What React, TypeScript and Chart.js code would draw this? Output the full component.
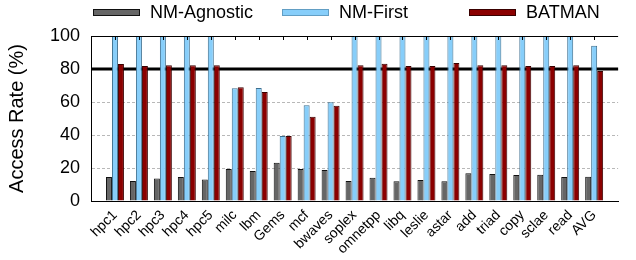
import React, { useEffect, useRef } from "react";
import { Chart, registerables } from "chart.js";

Chart.register(...registerables);

const categories = ["hpc1","hpc2","hpc3","hpc4","hpc5","milc","lbm","Gems","mcf","bwaves","soplex","omnetpp","libq","leslie","astar","add","triad","copy","sclae","read","AVG"];
const nmAgnostic = [14.5,12.1,13.7,14.5,13.1,19.4,18.2,23.2,19.4,18.8,12.1,14.1,11.9,12.7,11.9,16.8,16.4,15.8,15.9,14.5,14.7];
const nmFirst = [100,100,100,100,100,68.3,68.5,39.4,58,59.8,100,100,100,100,100,100,100,100,100,100,94.1];
const batman = [83,81.8,82.2,82.2,82.2,69,66,39.4,51,57.8,82.2,83.2,81.8,81.8,83.6,82.2,82.2,81.8,81.8,82.2,78.8];
const seriesNames = ["NM-Agnostic", "NM-First", "BATMAN"];
const yTicks = [0, 20, 40, 60, 80, 100];
const thresholdValue = 80;

const FONT = "'Liberation Sans', Arial, Helvetica, sans-serif";
const colors = ["#666666", "#87CEFA", "#8B0000"];
const borders = ["#111111", "#3d6f8f", "#3a0000"];

export default function App() {
  const ref = useRef<HTMLCanvasElement | null>(null);
  useEffect(() => {
    if (!ref.current) return;
    const labels = ["", ...categories, ""];
    const pad = (a: number[]) => [null, ...a, null];
    const extras = {
      id: "extras",
      beforeDatasetsDraw(chart: any) {
        const { ctx, chartArea } = chart;
        const y = chart.scales.y.getPixelForValue(thresholdValue);
        ctx.save();
        ctx.strokeStyle = "#000";
        ctx.lineWidth = 3;
        ctx.beginPath();
        ctx.moveTo(chartArea.left, y);
        ctx.lineTo(chartArea.right, y);
        ctx.stroke();
        ctx.restore();
      },
      afterDraw(chart: any) {
        const { ctx, chartArea } = chart;
        const xs = chart.scales.x;
        ctx.save();
        ctx.strokeStyle = "#000";
        ctx.lineWidth = 1;
        ctx.beginPath();
        ctx.moveTo(chartArea.left, chartArea.top + 0.5);
        ctx.lineTo(chartArea.right, chartArea.top + 0.5);
        ctx.stroke();
        ctx.beginPath();
        for (let i = 1; i <= categories.length; i++) {
          const px = Math.round(xs.getPixelForValue(i)) + 0.5;
          ctx.moveTo(px, chartArea.top);
          ctx.lineTo(px, chartArea.top + 4);
        }
        ctx.stroke();
        const lx = [93, 282, 469];
        const ly = 9;
        ctx.font = "18px " + FONT;
        ctx.textBaseline = "middle";
        ctx.textAlign = "left";
        seriesNames.forEach((name, i) => {
          ctx.fillStyle = colors[i];
          ctx.fillRect(lx[i], ly, 47, 7);
          ctx.strokeStyle = borders[i];
          ctx.lineWidth = 1;
          if (i === 1) ctx.setLineDash([1, 1]);
          ctx.strokeRect(lx[i] + 0.5, ly + 0.5, 46, 6);
          ctx.setLineDash([]);
          ctx.fillStyle = "#000";
          ctx.fillText(name, lx[i] + 57, ly + 4);
        });
        ctx.restore();
      },
    };
    const chart = new Chart(ref.current, {
      type: "bar",
      data: {
        labels,
        datasets: [nmAgnostic, nmFirst, batman].map((d, i) => ({
          label: seriesNames[i],
          data: pad(d),
          backgroundColor: colors[i],
          borderColor: borders[i],
          borderWidth: 1,
          categoryPercentage: 0.75,
          barPercentage: 1.0,
        })),
      },
      options: {
        animation: false,
        responsive: true,
        maintainAspectRatio: false,
        layout: { padding: { top: 36, left: 0, right: 0, bottom: 0 } },
        plugins: { legend: { display: false }, tooltip: { enabled: false } },
        scales: {
          x: {
            offset: false,
            grid: { display: false, drawTicks: false },
            border: { display: true, color: "#000", width: 1 },
            ticks: {
              autoSkip: false,
              maxRotation: 45,
              minRotation: 45,
              padding: 6,
              color: "#000",
              font: { family: FONT, size: 14 },
            },
            afterFit: (s: any) => { s.height = 59; },
          },
          y: {
            min: 0,
            max: 100,
            afterBuildTicks: (s: any) => { s.ticks = yTicks.map((v) => ({ value: v })); },
            grid: {
              drawTicks: false,
              color: (c: any) => (c.tick && (c.tick.value === 0 || c.tick.value === 100) ? "rgba(0,0,0,0)" : "#b8b8b8"),
            },
            border: { display: true, color: "#000", width: 1, dash: [3, 2] },
            ticks: { padding: 11, color: "#000", font: { family: FONT, size: 18 } },
            title: {
              display: true,
              text: "Access Rate (%)",
              color: "#000",
              font: { family: FONT, size: 20 },
              padding: { top: 5, bottom: 0 },
            },
            afterFit: (s: any) => { s.width = 91; },
          },
        },
      },
      plugins: [extras],
    } as any);
    return () => chart.destroy();
  }, []);
  return (
    <div style={{ position: "absolute", left: 0, top: 0, width: 636, height: 260, background: "#fff" }}>
      <canvas ref={ref} />
    </div>
  );
}
